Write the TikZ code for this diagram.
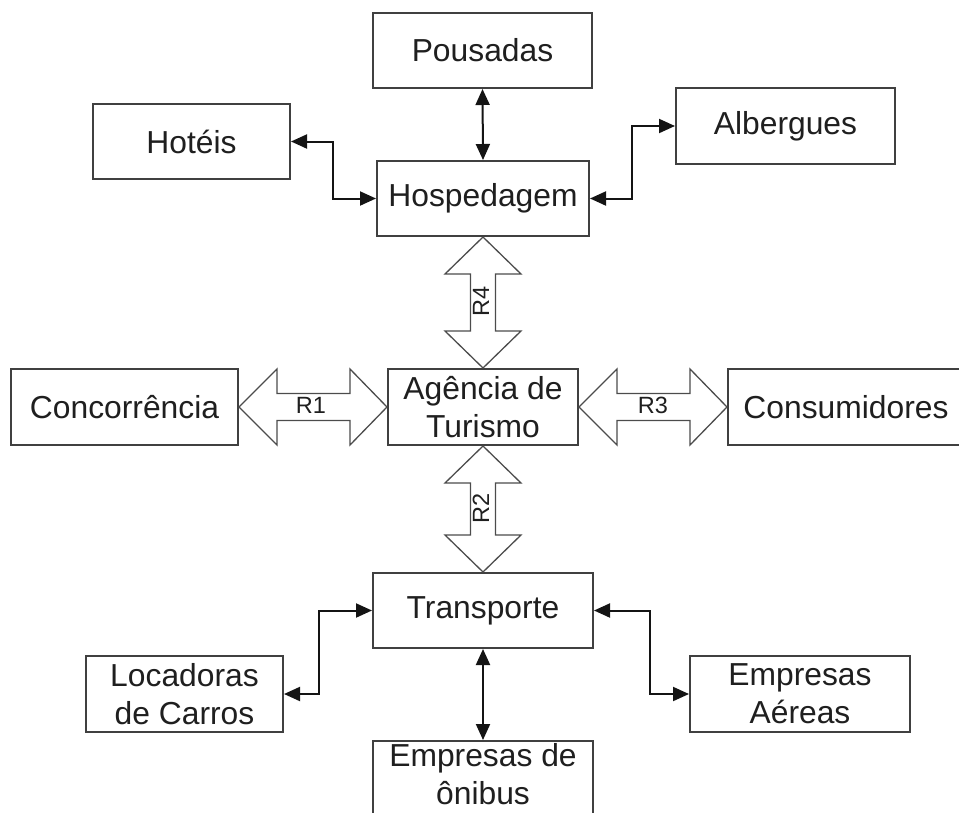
\documentclass[tikz,border=0pt]{standalone}
\usepackage{fontspec}
\setmainfont{Liberation Sans}
\usetikzlibrary{arrows.meta,calc}
\newcommand\hblk[2]{%
  \draw[blk] (#1) -- ($(#1)+(38,-38)$) -- ($(#1)+(38,-13.5)$) -- ($(#2)+(-37,-13.5)$) -- ($(#2)+(-37,-38)$) -- (#2)
    -- ($(#2)+(-37,38)$) -- ($(#2)+(-37,13.5)$) -- ($(#1)+(38,13.5)$) -- ($(#1)+(38,38)$) -- cycle;}
\newcommand\vblk[2]{%
  \draw[blk] (#1) -- ($(#1)+(38,37)$) -- ($(#1)+(12.5,37)$) -- ($(#2)+(12.5,-37)$) -- ($(#2)+(38,-37)$) -- (#2)
    -- ($(#2)+(-38,-37)$) -- ($(#2)+(-12.5,-37)$) -- ($(#1)+(-12.5,37)$) -- ($(#1)+(-38,37)$) -- cycle;}
\begin{document}
\begin{tikzpicture}[x=1pt,y=-1pt,
  box/.style={draw=black!75, line width=2pt, fill=white, inner sep=0pt, align=center,
    font=\fontsize{31.8}{37.8}\selectfont, text=black!88},
  txt/.style={inner sep=0pt, align=center, font=\fontsize{31.8}{37.8}\selectfont, text=black!88},
  conn/.style={line width=2pt, draw=black!92, {Triangle[length=16pt,width=14pt]}-{Triangle[length=16pt,width=14pt]}},
  blk/.style={draw=black!70, line width=1.3pt, line join=miter},
  rlab/.style={font=\fontsize{23.5}{26}\selectfont, text=black!88, inner sep=0pt}
]
\useasboundingbox (0,0) rectangle (959,812);
\clip (0,0) rectangle (959,812);
% nodes
\node[box, minimum width=219, minimum height=75] (pous) at (482.5,50.5) {Pousadas};
\node[box, minimum width=212, minimum height=75] (hosp) at (483,198.5) {Hospedagem};
\node[box, minimum width=197, minimum height=75] (hot) at (191.5,141.5) {Hotéis};
\node[box, minimum width=219, minimum height=76] (alb) at (785.5,126) {Albergues};
\node[box, minimum width=227, minimum height=76] (conc) at (124.5,407) {Concorrência};
\node[box, minimum width=190, minimum height=76] (ag) at (483,407) {Agência de\\Turismo};
\node[box, minimum width=236, minimum height=76] (cons) at (846,407) {Consumidores};
\node[box, minimum width=220, minimum height=75] (trans) at (483,610.5) {Transporte};
\node[box, minimum width=197, minimum height=76] (loc) at (184.5,694) {Locadoras\\de Carros};
\node[box, minimum width=220, minimum height=76] (aer) at (800,694) {Empresas\\Aéreas};
\node[box, minimum width=220, minimum height=100, anchor=north] (onib) at (483,740) {};
\node[txt] (onibt) at (483,774) {Empresas de\\ônibus};
% connectors
\draw[conn] (pous.south) -- (hosp.north);
\draw[conn] (hot.east) -- ++(42,0) |- (hosp.west);
\draw[conn] (alb.west) -- ++(-43,0) |- (hosp.east);
\draw[conn] (trans.west) -- ++(-53,0) |- (loc.east);
\draw[conn] (trans.east) -- ++(56,0) |- (aer.west);
\draw[conn] (trans.south) -- (onib.north);
% block arrows
\hblk{conc.east}{ag.west}
\hblk{ag.east}{cons.west}
\vblk{hosp.south}{ag.north}
\vblk{ag.south}{trans.north}
\node[rlab] (r1) at ($(conc.east)!0.5!(ag.west)+(-2,-2)$) {R1};
\node[rlab] (r3) at ($(ag.east)!0.5!(cons.west)+(0,-2)$) {R3};
\node[rlab, rotate=90] (r4) at ($(hosp.south)!0.5!(ag.north)+(-2,-1)$) {R4};
\node[rlab, rotate=90] (r2) at ($(ag.south)!0.5!(trans.north)+(-2,-1)$) {R2};
\end{tikzpicture}
\end{document}
